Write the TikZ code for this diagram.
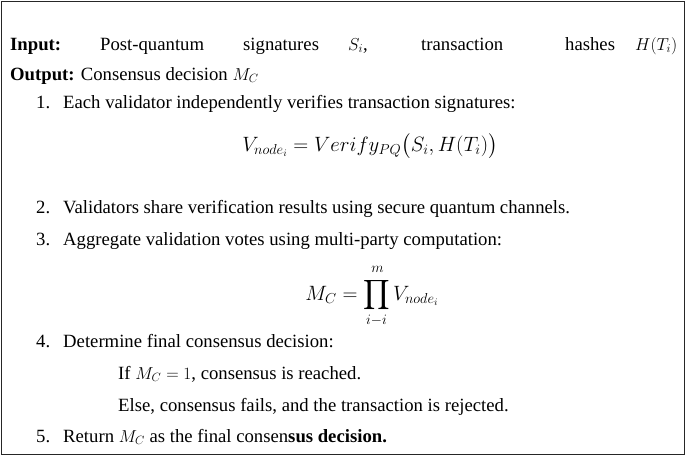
\documentclass[tikz,border=0pt]{standalone}
\usepackage{fontspec}
\setmainfont{Liberation Serif}
\usepackage{amsmath}
\begin{document}
\begin{tikzpicture}[x=1pt,y=-1pt,
  txt/.style={anchor=base west,inner sep=0pt,font=\fontsize{18.7}{22}\selectfont},
  eq/.style={anchor=center,inner sep=0pt,font=\fontsize{19.5}{23}\selectfont}]
\useasboundingbox (0,0) rectangle (685,455);
\draw[line width=1pt,black!85] (1,1) rectangle (684,454);
\node[txt,font=\fontsize{18.7}{22}\selectfont\bfseries] (in) at (10,50) {Input:};
\node[txt] (pq) at (100,50) {Post-quantum};
\node[txt] (sg) at (243,50) {signatures};
\node[txt] (si) at (348,50) {$S_i$,};
\node[txt] (tr) at (421,50) {transaction};
\node[txt] (hs) at (565,50) {hashes};
\node[txt] (ht) at (635,50) {$H(T_i)$};
\node[txt] (out) at (10,80) {\textbf{Output:} Consensus decision $M_C$};
\node[txt] (k1) at (36,108) {1.};
\node[txt] (n1) at (63,108) {Each validator independently verifies transaction signatures:};
\node[eq] (f1) at (370,146) {$V_{node_i}=Verify_{PQ}\big(S_i,H(T_i)\big)$};
\node[txt] (k2) at (36,213) {2.};
\node[txt] (n2) at (63,213) {Validators share verification results using secure quantum channels.};
\node[txt] (k3) at (36,245) {3.};
\node[txt] (n3) at (63,245) {Aggregate validation votes using multi-party computation:};
\node[eq] (f2) at (372,294) {$\displaystyle M_C=\prod_{i-i}^{\,m\vphantom{|}}V_{node_i}$};
\node[txt] (k4) at (36,347) {4.};
\node[txt] (n4) at (63,347) {Determine final consensus decision:};
\node[txt] (if) at (118,379) {If $M_C=1$, consensus is reached.};
\node[txt] (el) at (118,411) {Else, consensus fails, and the transaction is rejected.};
\node[txt] (k5) at (36,442) {5.};
\node[txt] (n5) at (63,442) {Return $M_C$ as the final consen\textbf{sus decision.}};
\end{tikzpicture}
\end{document}
